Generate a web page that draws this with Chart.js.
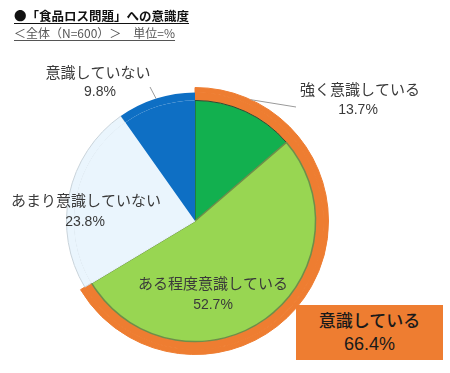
<!DOCTYPE html>
<html>
<head>
<meta charset="utf-8">
<script src="https://cdn.jsdelivr.net/npm/chart.js@4"></script>
<style>
  html, body { margin: 0; padding: 0; background: #fff; }
  #wrap { position: relative; width: 450px; height: 373px; overflow: hidden; }
  #c { position: absolute; left: 0; top: 0; }
  .title { position: absolute; left: 14px; top: 7px; font: bold 12.5px "Noto Sans CJK JP", sans-serif; color: #111; text-decoration: underline; text-underline-offset: 2px; white-space: nowrap; line-height: 17px; }
  .sub { position: absolute; left: 14px; top: 24px; font: 12px "Noto Sans CJK JP", sans-serif; color: #555; text-decoration: underline; text-underline-offset: 2px; white-space: nowrap; line-height: 17px; }
  .box { position: absolute; left: 296px; top: 305px; width: 147px; height: 55px; background: #EE7D31; color: #1a1a1a; text-align: center; font-family: "Liberation Sans", "Noto Sans CJK JP", sans-serif; }
  .box .l1 { position: absolute; left: 0; right: 0; top: 7px; font-size: 17px; line-height: 20px; font-weight: 500; }
  .box .l2 { position: absolute; left: 0; right: 0; top: 28px; font-size: 18px; line-height: 22px; }
</style>
</head>
<body>
<div id="wrap">
  <canvas id="c" width="450" height="373"></canvas>
  <div class="title">●「食品ロス問題」への意識度</div>
  <div class="sub">＜全体（N=600）＞　単位=%</div>
  <div class="box"><div class="l1" id="sumL"></div><div class="l2" id="sumV"></div></div>
</div>
<script>
const categories = ['強く意識している', 'ある程度意識している', 'あまり意識していない', '意識していない'];
const values = [13.7, 52.7, 23.8, 9.8];
const summaryLabel = '意識している';
const summaryValue = 66.4;

const sliceColors = ['#12B04F', '#98D652', '#EAF5FD', '#0E6FC4'];
const orange = '#EE7D31';
// label text centres (layout only)
const labelPos = [[360, 89, 358, 110], [213, 283, 213, 305], [86, 200, 85, 222], [98, 72, 100, 92]];
const leaderEnds = { 0: [296, 107], 3: [150, 87] };

document.getElementById('sumL').textContent = summaryLabel;
document.getElementById('sumV').textContent = summaryValue.toFixed(1) + '%';

const labelPlugin = {
  id: 'labels',
  afterDatasetsDraw(chart) {
    const ctx = chart.ctx;
    const pie = chart.getDatasetMeta(2);
    const outerR = chart.getDatasetMeta(0).data[0].outerRadius;
    const midR = chart.getDatasetMeta(1).data[0].outerRadius;
    ctx.save();
    ctx.strokeStyle = '#9a9a9a';
    ctx.lineWidth = 1;
    Object.keys(leaderEnds).forEach(k => {
      const a = pie.data[k];
      const mid = (a.startAngle + a.endAngle) / 2;
      const r = (+k === 0) ? outerR : midR;
      ctx.beginPath();
      ctx.moveTo(a.x + Math.cos(mid) * r, a.y + Math.sin(mid) * r);
      ctx.lineTo(leaderEnds[k][0], leaderEnds[k][1]);
      ctx.stroke();
    });
    ctx.fillStyle = '#3a3a3a';
    ctx.textAlign = 'center';
    ctx.textBaseline = 'middle';
    categories.forEach((c, i) => {
      const p = labelPos[i];
      ctx.font = '15px "Noto Sans CJK JP", sans-serif';
      ctx.fillText(c, p[0], p[1]);
      ctx.font = '14px "Liberation Sans", "Noto Sans CJK JP", sans-serif';
      ctx.fillText(values[i].toFixed(1) + '%', p[2], p[3]);
    });
    ctx.restore();
  }
};

new Chart(document.getElementById('c'), {
  type: 'doughnut',
  data: {
    labels: categories,
    datasets: [
      {
        data: [summaryValue, values[2] + values[3]],
        backgroundColor: [orange, 'rgba(0,0,0,0)'],
        borderWidth: [1, 0],
        borderColor: [orange, 'rgba(0,0,0,0)'],
        weight: 5,
        order: 2
      },
      {
        data: [summaryValue, values[2], values[3]],
        backgroundColor: [orange, sliceColors[2], sliceColors[3]],
        borderWidth: [1, 1, 0],
        borderColor: [orange, '#c9d3da', '#0E6FC4'],
        weight: 8,
        order: 1
      },
      {
        data: values,
        backgroundColor: sliceColors,
        borderColor: ['#2f4a33', '#6d8f4a', '#EAF5FD', '#0E6FC4'],
        borderWidth: [1, 1.5, 1, 0],
        weight: 121,
        order: 0
      }
    ]
  },
  options: {
    responsive: false,
    animation: false,
    cutout: 0,
    layout: { padding: { left: 61, top: 87, right: 121, bottom: 18 } },
    plugins: { legend: { display: false }, tooltip: { enabled: false } }
  },
  plugins: [labelPlugin]
});
</script>
</body>
</html>
